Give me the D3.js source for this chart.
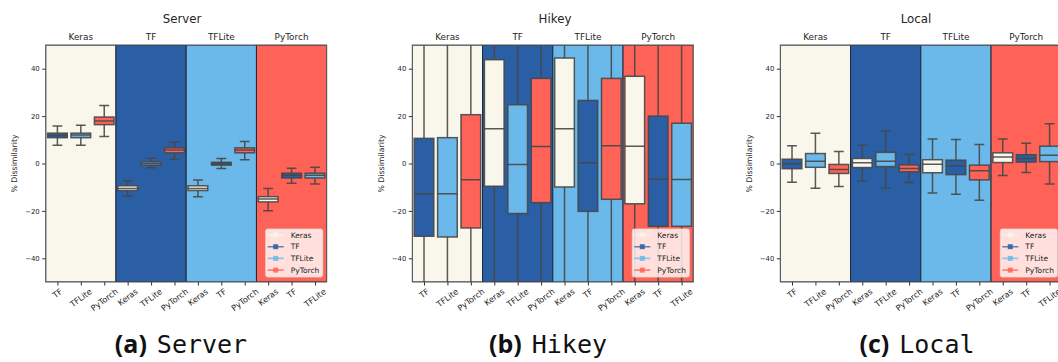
<!DOCTYPE html>
<html>
<head>
<meta charset="utf-8">
<script src="https://cdn.jsdelivr.net/npm/d3@7"></script>
<style>
  body { margin: 0; background: #fff; }
  svg { display: block; }
  text { font-family: "DejaVu Sans", sans-serif; fill: #262626; }
</style>
</head>
<body>
<div id="chart"></div>
<script>
// sections (background spans) and the box labels inside them
const sections = ["Keras", "TF", "TFLite", "PyTorch"];
const boxLabels = ["TF", "TFLite", "PyTorch", "Keras", "TFLite", "PyTorch",
                   "Keras", "TF", "PyTorch", "Keras", "TF", "TFLite"];
const yTicks = [-40, -20, 0, 20, 40];
const legendLabels = ["Keras", "TF", "TFLite", "PyTorch"];

// [whisker low, q1, median, q3, whisker high] per box
const serverStats = [
  [7.7, 10.9, 11.8, 12.8, 15.8],
  [7.7, 10.9, 12.0, 12.8, 16.1],
  [11.4, 16.4, 17.9, 19.6, 24.5],
  [-13.7, -11.4, -10.5, -9.4, -7.3],
  [-1.8, -0.7, 0.0, 0.7, 2.2],
  [1.8, 4.5, 5.7, 6.6, 9.0],
  [-14.0, -11.4, -10.5, -9.4, -7.0],
  [-2.1, -0.7, 0.0, 0.5, 2.1],
  [1.6, 4.5, 5.7, 6.6, 9.3],
  [-19.9, -16.2, -15.0, -14.0, -10.6],
  [-8.3, -6.1, -5.0, -4.1, -2.0],
  [-8.6, -6.1, -5.0, -4.1, -1.6]
];
const hikeyStats = [
  [-85, -30.7, -12.8, 10.6, 68],
  [-85, -31.0, -12.8, 10.9, 68],
  [-90, -27.2, -6.9, 20.6, 80],
  [-88, -9.6, 14.7, 43.8, 99],
  [-90, -21.1, -0.4, 24.8, 80],
  [-95, -16.5, 7.2, 35.9, 90],
  [-88, -9.9, 14.7, 44.5, 99],
  [-90, -20.2, 0.3, 26.6, 80],
  [-95, -15.1, 7.5, 35.9, 90],
  [-95, -17.0, 7.3, 36.8, 90],
  [-95, -26.5, -6.6, 20.0, 75],
  [-95, -26.5, -6.8, 17.0, 72]
];
const localStats = [
  [-7.9, -2.2, -0.1, 1.8, 7.5],
  [-10.4, -1.6, 1.0, 4.2, 12.8],
  [-9.7, -4.2, -2.5, -0.4, 5.1],
  [-7.3, -1.7, 0.3, 2.1, 7.7],
  [-10.3, -1.3, 1.0, 4.7, 13.7],
  [-8.0, -3.5, -2.1, -0.6, 3.8],
  [-12.4, -3.9, -0.3, 1.6, 10.3],
  [-13.0, -4.7, -1.0, 1.4, 10.1],
  [-15.5, -6.9, -3.1, -0.7, 8.0],
  [-5.1, 0.4, 2.7, 4.5, 10.3],
  [-3.8, 0.6, 2.1, 3.7, 8.5],
  [-8.7, 0.8, 3.5, 7.3, 16.8]
];

const colors = { Keras: "#f9f6ec", TF: "#2a5ea5", TFLite: "#6ab9ea", PyTorch: "#ff6357" };

const panels = [
  { title: "Server", titleX: 182, left: 45.7, stats: serverStats, tag: "(a)", name: "Server", capX: 181 },
  { title: "Hikey", titleX: 555, left: 412.3, stats: hikeyStats, tag: "(b)", name: "Hikey", capX: 548 },
  { title: "Local", titleX: 916, left: 780.3, stats: localStats, tag: "(c)", name: "Local", capX: 917 }
];

const W = 1058, H = 362;
const plotW = 281, plotTop = 45, plotBottom = 282;

const svg = d3.select("#chart").append("svg")
  .attr("width", W).attr("height", H);

const y = d3.scaleLinear().domain([-50, 50]).range([plotBottom, plotTop]);

panels.forEach((p, pi) => {
  const x = d3.scaleLinear().domain([-0.5, 11.5]).range([p.left, p.left + plotW]);
  const step = x(1) - x(0);
  const boxW = step * 0.84;

  const g = svg.append("g");
  const clipId = "clip" + pi;
  svg.append("clipPath").attr("id", clipId)
    .append("rect").attr("x", p.left).attr("y", plotTop).attr("width", plotW).attr("height", plotBottom - plotTop);

  const plot = g.append("g").attr("clip-path", `url(#${clipId})`);

  // section backgrounds
  plot.selectAll("rect.sec").data(sections).enter().append("rect")
    .attr("class", "sec")
    .attr("x", (d, i) => x(i * 3 - 0.5))
    .attr("y", plotTop)
    .attr("width", step * 3)
    .attr("height", plotBottom - plotTop)
    .attr("fill", d => colors[d])
    .attr("stroke", "#1f2a38")
    .attr("stroke-width", 1);

  // boxes
  const boxes = plot.selectAll("g.box").data(p.stats).enter().append("g").attr("class", "box");
  const edge = "#474747";
  boxes.append("line")
    .attr("x1", (d, i) => x(i)).attr("x2", (d, i) => x(i))
    .attr("y1", d => y(d[0])).attr("y2", d => y(d[1]))
    .attr("stroke", edge).attr("stroke-width", 1.5).attr("stroke-opacity", 0.9);
  boxes.append("line")
    .attr("x1", (d, i) => x(i)).attr("x2", (d, i) => x(i))
    .attr("y1", d => y(d[3])).attr("y2", d => y(d[4]))
    .attr("stroke", edge).attr("stroke-width", 1.5).attr("stroke-opacity", 0.9);
  [0, 4].forEach(k => {
    boxes.append("line")
      .attr("x1", (d, i) => x(i) - boxW / 4).attr("x2", (d, i) => x(i) + boxW / 4)
      .attr("y1", d => y(d[k])).attr("y2", d => y(d[k]))
      .attr("stroke", edge).attr("stroke-width", 1.5).attr("stroke-opacity", 0.9);
  });
  boxes.append("rect")
    .attr("x", (d, i) => x(i) - boxW / 2)
    .attr("y", d => y(d[3]))
    .attr("width", boxW)
    .attr("height", d => y(d[1]) - y(d[3]))
    .attr("fill", (d, i) => colors[boxLabels[i]])
    .attr("stroke", edge).attr("stroke-width", 1.5).attr("stroke-opacity", 0.9);
  boxes.append("line")
    .attr("x1", (d, i) => x(i) - boxW / 2).attr("x2", (d, i) => x(i) + boxW / 2)
    .attr("y1", d => y(d[2])).attr("y2", d => y(d[2]))
    .attr("stroke", edge).attr("stroke-width", 1.5).attr("stroke-opacity", 0.9);

  // frame
  g.append("rect")
    .attr("x", p.left).attr("y", plotTop).attr("width", plotW).attr("height", plotBottom - plotTop)
    .attr("fill", "none").attr("stroke", "#555").attr("stroke-width", 1);

  // y axis
  const yAxis = g.append("g").attr("transform", `translate(${p.left},0)`)
    .call(d3.axisLeft(y).tickValues(yTicks).tickSize(3.5).tickPadding(2.5)
      .tickFormat(d => d < 0 ? "\u2212" + Math.abs(d) : d));
  yAxis.select(".domain").remove();
  yAxis.selectAll("line").attr("stroke", "#333");
  yAxis.selectAll("text").style("font-size", "6.9px").attr("fill", "#262626")
    .style("font-family", "DejaVu Sans");

  g.append("text")
    .attr("transform", `translate(${p.left - 28.5},${y(0)}) rotate(-90)`)
    .attr("text-anchor", "middle")
    .style("font-size", "7.8px")
    .text("% Dissimilarity");

  // x axis ticks
  const xAxis = g.append("g").attr("transform", `translate(0,${plotBottom})`)
    .call(d3.axisBottom(x).tickValues(d3.range(12)).tickSize(3.5).tickFormat(""));
  xAxis.select(".domain").remove();
  xAxis.selectAll("line").attr("stroke", "#333");

  // rotated x labels, bounding box centred under each tick
  const ang = 37 * Math.PI / 180;
  g.selectAll("text.xl").data(boxLabels).enter().append("text")
    .attr("class", "xl")
    .style("font-size", "8.2px")
    .attr("text-anchor", "middle")
    .attr("dominant-baseline", "central")
    .text(d => d)
    .each(function (d, i) {
      const L = this.getComputedTextLength();
      const h = 8.2;
      const cy = plotBottom + 5 + (L * Math.sin(ang) + h * Math.cos(ang)) / 2;
      d3.select(this).attr("transform", `translate(${x(i)},${cy}) rotate(-37)`);
    });

  // section labels
  g.selectAll("text.sl").data(sections).enter().append("text")
    .attr("class", "sl")
    .attr("x", (d, i) => x(i * 3 + 1))
    .attr("y", 40)
    .attr("text-anchor", "middle")
    .style("font-size", "8.9px")
    .text(d => d);

  // title
  g.append("text")
    .attr("x", p.titleX).attr("y", 23)
    .attr("text-anchor", "middle")
    .style("font-size", "11.8px")
    .text(p.title);

  // legend
  const lgW = 57, lgH = 48;
  const lx = p.left + plotW - 4 - lgW, ly = plotBottom - 5 - lgH;
  const lg = g.append("g").attr("clip-path", `url(#${clipId})`);
  lg.append("rect")
    .attr("x", lx).attr("y", ly).attr("width", lgW).attr("height", lgH)
    .attr("rx", 2)
    .attr("fill", "#fff").attr("fill-opacity", 0.8)
    .attr("stroke", "#e0e0e0").attr("stroke-opacity", 0.8);
  const rows = lg.selectAll("g.lr").data(legendLabels).enter().append("g")
    .attr("transform", (d, i) => `translate(${lx + 2},${ly + 6 + i * 11.7})`);
  rows.append("line")
    .attr("x1", 0).attr("x2", 16).attr("y1", 0).attr("y2", 0)
    .attr("stroke", d => colors[d]).attr("stroke-width", 1.6).attr("stroke-opacity", 0.75);
  rows.append("rect")
    .attr("x", 5.5).attr("y", -2.5).attr("width", 5).attr("height", 5)
    .attr("fill", d => colors[d]).attr("fill-opacity", 0.85);
  rows.append("text")
    .attr("x", 23).attr("y", 0)
    .attr("dominant-baseline", "central")
    .style("font-size", "7.5px")
    .text(d => d);

  // caption
  const cap = svg.append("text")
    .attr("x", p.capX).attr("y", 353)
    .attr("text-anchor", "middle");
  cap.append("tspan").style("font-family", "Open Sans").style("font-weight", "bold")
    .style("font-size", "25px").attr("fill", "#111").text(p.tag);
  cap.append("tspan").style("font-family", "DejaVu Sans Mono").style("font-size", "25px")
    .attr("dx", 10).attr("fill", "#111").text(p.name);
});
</script>
</body>
</html>
